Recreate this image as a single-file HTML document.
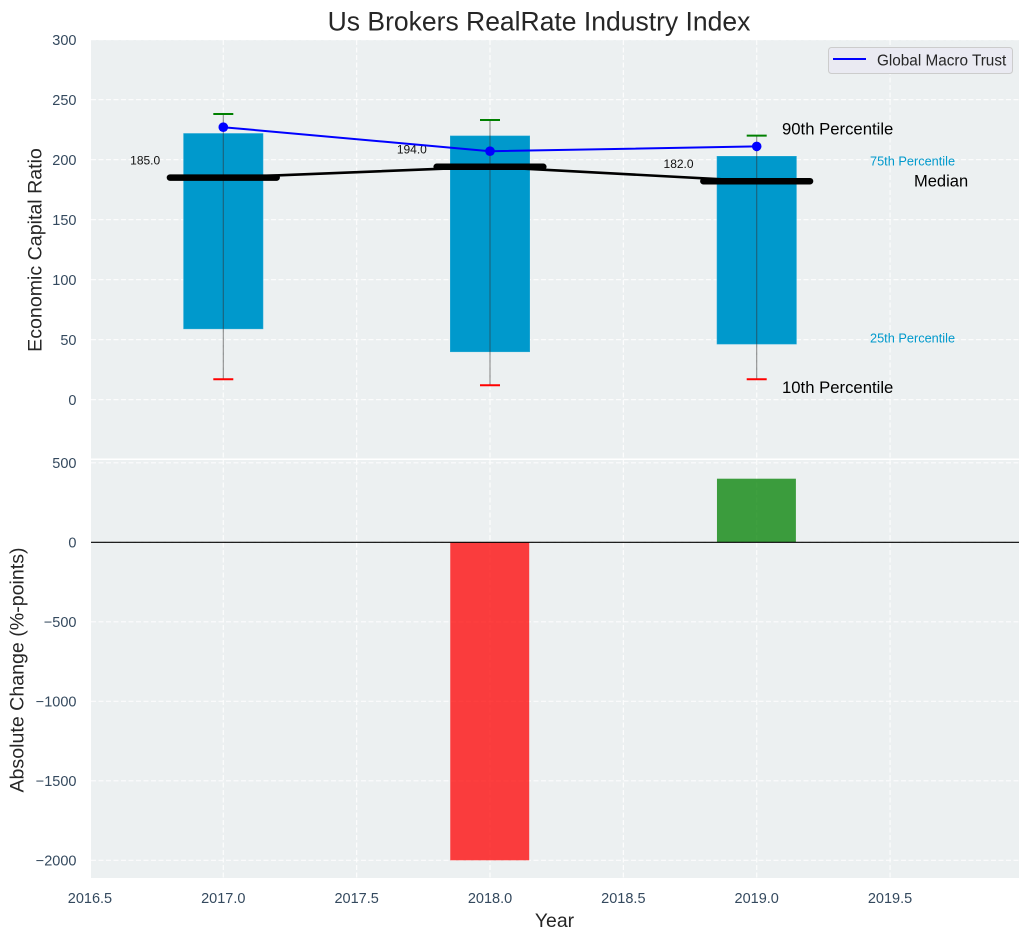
<!DOCTYPE html>
<html>
<head>
<meta charset="utf-8">
<title>Us Brokers RealRate Industry Index</title>
<style>
html,body{margin:0;padding:0;background:#fff;width:1029px;height:940px;overflow:hidden}
svg{display:block;font-family:"Liberation Sans",Arial,sans-serif}
</style>
</head>
<body>
<svg id="chart" xmlns="http://www.w3.org/2000/svg" width="1029" height="940" viewBox="0 0 1029 940"></svg>
<script>
const years = [2017, 2018, 2019];
const p10 = [17, 12, 17];
const p25 = [58.7, 39.6, 46];
const medians = [185, 194, 182];
const p75 = [222, 220, 203];
const p90 = [238, 233, 220];
const seriesValues = [227, 207, 211];
const absoluteChange = [null, -2000, 400];
const seriesName = 'Global Macro Trust';
const xTicks = [2016.5, 2017, 2017.5, 2018, 2018.5, 2019, 2019.5];
const xTickLabels = ['2016.5', '2017.0', '2017.5', '2018.0', '2018.5', '2019.0', '2019.5'];
const topTicks = [0, 50, 100, 150, 200, 250, 300];
const topTickLabels = ['0', '50', '100', '150', '200', '250', '300'];
const bottomTicks = [-2000, -1500, -1000, -500, 0, 500];
const bottomTickLabels = ['\u22122000', '\u22121500', '\u22121000', '\u2212500', '0', '500'];

const NS = 'http://www.w3.org/2000/svg';
const svg = document.getElementById('chart');
const L = 91, R = 1019, T1 = 40, B1 = 458.5, T2 = 460, B2 = 878;
const x = v => 223.3 + (v - 2017) * 266.7;
const yTop = v => 399.6 - v * 1.2;
const yBot = v => 542.3 - v * 0.159;

function make(tag, attrs, text) {
  const e = document.createElementNS(NS, tag);
  for (const k in attrs) e.setAttribute(k, attrs[k]);
  if (text !== undefined) e.textContent = text;
  svg.appendChild(e);
  return e;
}
let el;

el = make('text', {x: 539, y: 30.5, 'text-anchor': 'middle', 'font-size': 26.5, fill: '#262626'}, 'Us Brokers RealRate Industry Index');



el = make('rect', {x: L, y: T1, width: R - L, height: B1 - T1, fill: '#ecf0f1'});



el = make('rect', {x: L, y: T2, width: R - L, height: B2 - T2, fill: '#ecf0f1'});



const gridStyle = {stroke: '#ffffff', 'stroke-width': 1.2, 'stroke-dasharray': '5 2.5', opacity: 0.85};

xTicks.forEach((t, i) => {
  if (x(t) >= L) {
    el = make('line', Object.assign({x1: x(t), x2: x(t), y1: T1, y2: B1}, gridStyle));
    
    
    el = make('line', Object.assign({x1: x(t), x2: x(t), y1: T2, y2: B2}, gridStyle));
    
    
  }
  el = make('text', {x: x(t), y: 903.2, 'text-anchor': 'middle', 'font-size': 14.5, fill: '#34495e'}, xTickLabels[i]);
  
  
});

topTicks.forEach((t, i) => {
  el = make('line', Object.assign({x1: L, x2: R, y1: yTop(t), y2: yTop(t)}, gridStyle));
  
  
  el = make('text', {x: 76.5, y: yTop(t) + 5.2, 'text-anchor': 'end', 'font-size': 14.5, fill: '#34495e'}, topTickLabels[i]);
  
  
});

bottomTicks.forEach((t, i) => {
  el = make('line', Object.assign({x1: L, x2: R, y1: yBot(t), y2: yBot(t)}, gridStyle));
  
  
  el = make('text', {x: 76.5, y: yBot(t) + 5.2, 'text-anchor': 'end', 'font-size': 14.5, fill: '#34495e'}, bottomTickLabels[i]);
  
  
});

// Interquartile boxes
years.forEach((yr, i) => {
  el = make('rect', {x: x(yr - 0.15), y: yTop(p75[i]), width: x(yr + 0.15) - x(yr - 0.15), height: yTop(p25[i]) - yTop(p75[i]), fill: '#0099cc', stroke: '#ffffff', 'stroke-opacity': 0.2, 'stroke-width': 1});
  
  
});

// Median connecting line
el = make('polyline', {points: years.map((yr, i) => x(yr) + ',' + yTop(medians[i])).join(' '), fill: 'none', stroke: '#000000', 'stroke-width': 2.6});



// Whiskers and caps
years.forEach((yr, i) => {
  el = make('line', {x1: x(yr), x2: x(yr), y1: yTop(p90[i]), y2: yTop(p10[i]), stroke: '#333333', 'stroke-width': 1.1, opacity: 0.55});
  
  
  el = make('line', {x1: x(yr - 0.0375), x2: x(yr + 0.0375), y1: yTop(p90[i]), y2: yTop(p90[i]), stroke: '#008000', 'stroke-width': 2});
  
  
  el = make('line', {x1: x(yr - 0.0375), x2: x(yr + 0.0375), y1: yTop(p10[i]), y2: yTop(p10[i]), stroke: '#ff0000', 'stroke-width': 2});
  
  
});

// Median bars
years.forEach((yr, i) => {
  el = make('line', {x1: x(yr - 0.2), x2: x(yr + 0.2), y1: yTop(medians[i]), y2: yTop(medians[i]), stroke: '#000000', 'stroke-width': 6.5, 'stroke-linecap': 'round'});
  
  
  el = make('text', {x: x(yr - 0.293), y: yTop(medians[i]) - 13.3, 'text-anchor': 'middle', 'font-size': 12, fill: '#111111'}, medians[i].toFixed(1));
  
  
});

// Series line
el = make('polyline', {points: years.map((yr, i) => x(yr) + ',' + yTop(seriesValues[i])).join(' '), fill: 'none', stroke: '#0000ff', 'stroke-width': 2});


years.forEach((yr, i) => {
  el = make('circle', {cx: x(yr), cy: yTop(seriesValues[i]), r: 4.8, fill: '#0000ff'});
  
  
});

// Absolute change bars
years.forEach((yr, i) => {
  const v = absoluteChange[i];
  if (v === null) return;
  el = make('rect', {x: x(yr - 0.149), width: x(yr + 0.147) - x(yr - 0.149), y: Math.min(yBot(v), yBot(0)), height: Math.abs(yBot(v) - yBot(0)), fill: v < 0 ? '#ff0000' : '#008000', opacity: 0.75});
  
  
});

el = make('line', {x1: L, x2: R, y1: yBot(0), y2: yBot(0), stroke: '#000000', 'stroke-width': 1.2});



// Annotations
el = make('text', {x: 782, y: 134.5, 'font-size': 16.7, fill: '#000000'}, '90th Percentile');


el = make('text', {x: 782, y: 393, 'font-size': 16.7, fill: '#000000'}, '10th Percentile');


el = make('text', {x: 914, y: 186.5, 'font-size': 16.5, fill: '#000000'}, 'Median');


el = make('text', {x: 870, y: 165.3, 'font-size': 12.75, fill: '#0099cc'}, '75th Percentile');


el = make('text', {x: 870, y: 342.3, 'font-size': 12.75, fill: '#0099cc'}, '25th Percentile');



// Legend
el = make('rect', {x: 828.5, y: 47.5, width: 184, height: 26, rx: 3, fill: '#eaeaf2', stroke: '#cccccc', 'stroke-width': 1});


el = make('line', {x1: 833, x2: 866, y1: 59, y2: 59, stroke: '#0000ff', 'stroke-width': 2});


el = make('text', {x: 877, y: 65.3, 'font-size': 15.3, fill: '#262626'}, seriesName);



// Axis titles
el = make('text', {x: 554.5, y: 927, 'text-anchor': 'middle', 'font-size': 19.4, fill: '#262626'}, 'Year');


el = make('text', {transform: 'translate(41.5,250) rotate(-90)', 'text-anchor': 'middle', 'font-size': 19.6, fill: '#262626'}, 'Economic Capital Ratio');


el = make('text', {transform: 'translate(23.5,670) rotate(-90)', 'text-anchor': 'middle', 'font-size': 19.6, fill: '#262626'}, 'Absolute Change (%-points)');


</script>
</body>
</html>
